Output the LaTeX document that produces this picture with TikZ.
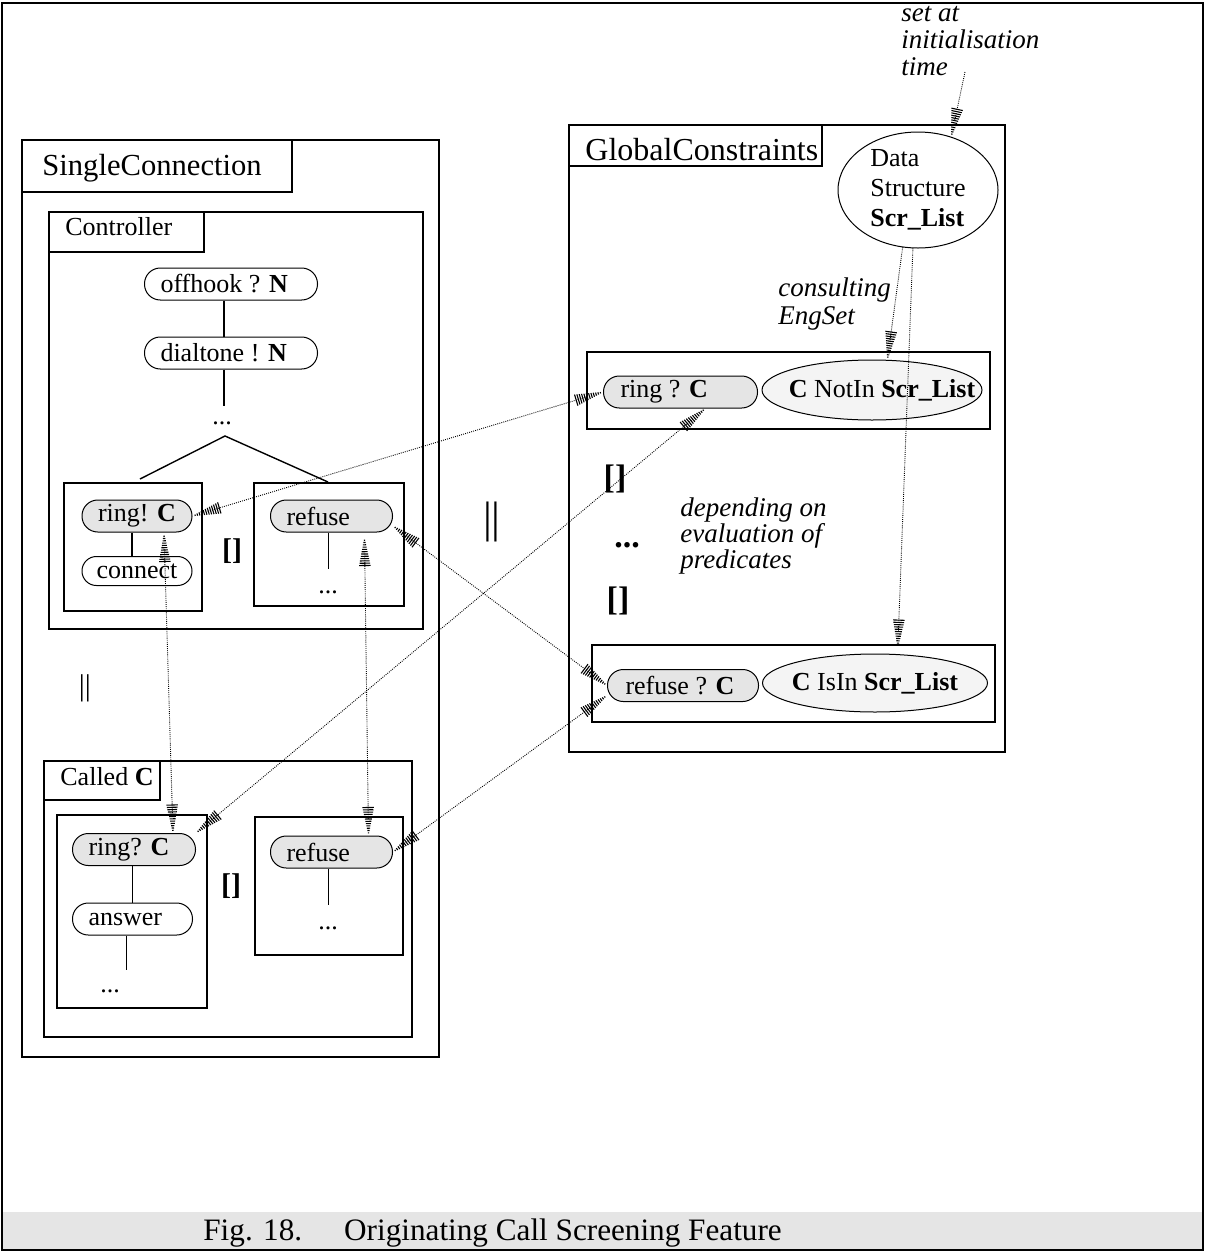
\documentclass[tikz,border=0pt]{standalone}
\usepackage{fontspec}
\setmainfont{Liberation Serif}
\usetikzlibrary{shapes.geometric,calc}

\definecolor{capgray}{HTML}{E5E5E5}
\definecolor{predfill}{HTML}{F4F4F4}

% left-aligned label of fixed width inside a pill
\newcommand{\padl}[2]{\makebox[#1][l]{#2}}

% hatched arrow head: a row of strokes across the line, narrowing to the tip
\pgfdeclarearrow{
  name = Hatch,
  setup code = {
    \pgfarrowssettipend{0pt}
    \pgfarrowssetlineend{-8pt}
    \pgfarrowssetvisualbackend{-14pt}
    \pgfarrowssetbackend{-14pt}
    \pgfarrowshullpoint{0pt}{0pt}
    \pgfarrowsupperhullpoint{-14pt}{2.9pt}
  },
  drawing code = {
    \pgfsetdash{}{0pt}
    \pgfsetbuttcap
    \pgfsetlinewidth{0.55pt}
    \foreach \k in {0,...,11}{
      \pgfmathsetmacro\hx{-14+1.15*\k}
      \pgfmathsetmacro\hy{2.9*(1-\k/12.5)}
      \pgfpathmoveto{\pgfqpoint{\hx pt}{\hy pt}}
      \pgfpathlineto{\pgfqpoint{\hx pt}{-\hy pt}}
      \pgfusepathqstroke
    }
  }
}

\begin{document}
\begin{tikzpicture}[x=0.5pt,y=-0.5pt,
  box/.style={line width=1.1pt},
  pill/.style={draw, line width=0.5pt, rounded corners=7.9pt, minimum height=16pt,
    inner ysep=0pt, font=\fontsize{13}{15}\selectfont},
  pillL/.style={pill, anchor=west, inner xsep=8pt},
  shaded/.style={fill=capgray},
  pred/.style={ellipse, draw, line width=0.5pt, fill=predfill, inner xsep=-16pt,
    inner ysep=-6pt, font=\fontsize{13}{15}\selectfont},
  link/.style={line width=0.45pt, dash pattern=on 0.45pt off 0.6pt, arrows={Hatch-Hatch}},
  feed/.style={line width=0.45pt, dash pattern=on 0.45pt off 0.6pt, arrows={-Hatch}},
  tree/.style={line width=0.7pt},
  body/.style={inner sep=0pt, font=\fontsize{13}{15}\selectfont},
  op/.style={inner sep=0pt, font=\fontsize{15}{17}\selectfont\bfseries},
  bigop/.style={inner sep=0pt, font=\fontsize{17}{19}\selectfont\bfseries},
  title/.style={inner sep=0pt, anchor=base west, font=\fontsize{#1}{#1}\selectfont},
  note/.style={inner sep=0pt, anchor=base west, align=left, font=\fontsize{13.5}{#1}\selectfont\itshape}
]
\useasboundingbox (0,0) rectangle (1205,1253);

% caption band and outer frame
\fill[capgray] (2,1212) rectangle (1203,1250);
\draw[line width=1pt] (2,3) rectangle (1203,1250);
\node[inner sep=0pt, anchor=base west, font=\fontsize{15.6}{18}\selectfont] (cap) at (203,1240)
  {Fig. 18.\hspace{21pt}Originating Call Screening Feature};

% ---------- SingleConnection ----------
\draw[box] (22,140) rectangle (439,1057);
\draw[box] (22,140) rectangle (292,192);
\node[title=15.3] (tSC) at (42,175) {SingleConnection};

% Controller
\draw[box] (49,212) rectangle (423,629);
\draw[box] (49,212) rectangle (204,252);
\node[title=13] (tCtrl) at (65,235) {Controller};
\draw[box] (64,483) rectangle (202,611);
\draw[box] (254,483) rectangle (404,606);

\node[pillL] (off) at (144,284) {\padl{70.5pt}{offhook ? \textbf{N}}};
\node[pillL] (dial) at (144,353) {\padl{70.5pt}{dialtone ! \textbf{N}}};
\node[body, anchor=base] (dotsA) at (222,424) {...};
\node[pill, shaded, minimum width=55pt] (ringC) at (137,516) {ring! \textbf{C}};
\node[pill, minimum width=55pt, minimum height=14.5pt, rounded corners=7.2pt] (conn) at (137,571) {connect};
\node[pillL, shaded] (refC) at (270,516) {\padl{45pt}{refuse}};
\node[body, anchor=base] (dotsB) at (328,593) {...};
\node[op] (altA) at (232,551) {[]};

\draw[tree] ($(off.south)+(-7,0)$) -- ($(dial.north)+(-7,0)$);
\draw[tree] ($(dial.south)+(-7,0)$) -- ++(0,36);
\coordinate (apex) at (225,436);
\coordinate (legL) at (140,479);
\coordinate (legR) at (328,482);
\draw[tree] (legL) -- (apex) -- (legR);
\draw[tree] ($(ringC.south)+(-5,0)$) -- ($(conn.north)+(-5,0)$);
\draw[tree] ($(refC.south)+(-3,0)$) -- ++(0,36);

\node[inner sep=0pt, font=\fontsize{15}{15}\selectfont] (parB) at (85,688) {||};

% Called C
\draw[box] (44,761) rectangle (412,1037);
\draw[box] (44,761) rectangle (160,800);
\node[title=13] (tCalled) at (60,785) {Called \textbf{C}};
\draw[box] (57,815) rectangle (207,1008);
\draw[box] (255,817) rectangle (403,955);

\node[pillL, shaded] (ringQ) at (72,849.5) {\padl{45.5pt}{ring? \textbf{C}}};
\node[pillL] (ans) at (72,919) {\padl{44pt}{answer}};
\node[body, anchor=base] (dotsC) at (110,992) {...};
\node[pillL, shaded] (refD) at (270,852) {\padl{45pt}{refuse}};
\node[body, anchor=base] (dotsD) at (328,929) {...};
\node[op] (altB) at (231,886) {[]};

\draw[tree] (ans.north |- ringQ.south) -- (ans.north);
\draw[tree] ($(ans.south)+(-6,0)$) -- ++(0,34);
\draw[tree] ($(refD.south)+(-3,0)$) -- ++(0,36);

% parallel composition
\node[inner sep=0pt, font=\fontsize{22}{22}\selectfont] (parA) at (492,522) {||};

% ---------- GlobalConstraints ----------
\draw[box] (569,125) rectangle (1005,752);
\draw[box] (569,125) rectangle (822,166);
\node[title=16] (tGC) at (585,160) {GlobalConstraints};

\node[pred, fill=white, minimum width=80pt, minimum height=58pt, align=left] (ds) at (918,190)
  {Data\\Structure\\\textbf{Scr\_List}};

\draw[box] (587,352) rectangle (990,429);
\node[pillL, shaded, inner xsep=8.5pt] (ringG) at (603,392) {\padl{60pt}{ring ? \textbf{C}}};
\node[pred, minimum width=110pt, minimum height=30pt] (notin) at (872,390)
  {\hspace{10pt}\textbf{C} NotIn \textbf{Scr\_List}};

\node[bigop] (altC) at (615,479) {[]};
\node[bigop, anchor=base] (moreC) at (627,547) {...};
\node[bigop] (altD) at (618,601) {[]};

\draw[box] (592,645) rectangle (995,722);
\node[pillL, shaded, inner xsep=9pt] (refG) at (607,685.5) {\padl{57.5pt}{refuse ? \textbf{C}}};
\node[pred, minimum width=112.5pt, minimum height=29pt] (isin) at (875,683) {\textbf{C} IsIn \textbf{Scr\_List}};

% annotations (anchored at the baseline of their last line)
\node[note=13.5pt] (initNote) at (901,75) {set at\\initialisation\\time};
\node[note=14pt] (consNote) at (778,324) {consulting\\EngSet};
\node[note=13pt] (depNote) at (680,568) {depending on\\evaluation of\\predicates};

% ---------- dotted connections ----------
\coordinate (initEnd) at (965,72);
\draw[feed] (initEnd) -- (ds.58);
\draw[feed] (ds.255) -- (notin.63);
\draw[feed, shorten >=3pt] (ds.265) -- (isin.52);

\draw[link] (ringC.east) -- (ringG.west);
\draw[link] (ringQ.north east) -- ($(ringG.south)!0.32!(ringG.south east)$);
\draw[link] ($(refC.east)!0.6!(refC.south east)$) -- (refG.west);
\draw[link] (refD.east) -- ($(refG.west)!0.6!(refG.south west)$);
\draw[link] ($(ringC.south)+(27,1)$) -- ($(ringQ.north)+(39,0)$);
\draw[link] ($(refC.south)+(33,5)$) -- ($(refD.north)+(37,0)$);
\end{tikzpicture}
\end{document}
